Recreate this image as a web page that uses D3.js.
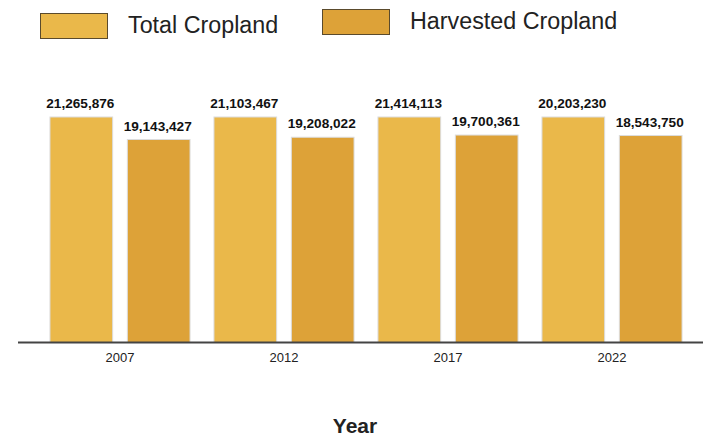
<!DOCTYPE html>
<html>
<head>
<meta charset="utf-8">
<script src="https://cdn.jsdelivr.net/npm/d3@7"></script>
<style>
  html, body { margin: 0; padding: 0; background: #fff; }
  svg { display: block; font-family: "Liberation Sans", Arial, Helvetica, sans-serif; }
</style>
</head>
<body>
<svg id="chart" width="703" height="439"></svg>
<script>
const years = ["2007", "2012", "2017", "2022"];
const seriesNames = ["Total Cropland", "Harvested Cropland"];
const totalCropland = [21265876, 21103467, 21414113, 20203230];
const harvestedCropland = [19143427, 19208022, 19700361, 18543750];
const colors = ["#EAB84A", "#DDA238"];

const svg = d3.select("#chart");
const W = 703, H = 439;
const baseY = 342.5, topY = 117;

const data = years.map((y, i) => ({
  year: y,
  values: [
    { key: seriesNames[0], value: totalCropland[i] },
    { key: seriesNames[1], value: harvestedCropland[i] }
  ]
}));

const x0 = d3.scaleBand().domain(years).range([38, 694]).paddingInner(0.146).paddingOuter(0.073);
const x1 = d3.scaleBand().domain(seriesNames).range([0, x0.bandwidth()]).paddingInner(0.19);
const color = d3.scaleOrdinal().domain(seriesNames).range(colors);
const fmt = d3.format(",");

// Each year group scaled to its own maximum, as in the reference
const groups = svg.selectAll("g.group").data(data).join("g")
  .attr("class", "group")
  .attr("transform", d => `translate(${x0(d.year)},0)`);

groups.each(function(d) {
  const y = d3.scaleLinear().domain([0, d3.max(d.values, v => v.value)]).range([baseY, topY]);
  const g = d3.select(this);
  g.selectAll("rect").data(d.values).join("rect")
    .attr("x", v => x1(v.key))
    .attr("y", v => y(v.value))
    .attr("width", x1.bandwidth())
    .attr("height", v => baseY - y(v.value))
    .attr("fill", v => color(v.key))
    .attr("stroke", "#dcdcdc")
    .attr("stroke-width", 1);
  g.selectAll("text").data(d.values).join("text")
    .attr("x", v => x1(v.key) + x1.bandwidth() / 2 - 1)
    .attr("y", v => y(v.value) - 9)
    .attr("text-anchor", "middle")
    .attr("font-size", 13.6)
    .attr("font-weight", "bold")
    .attr("fill", "#111")
    .text(v => fmt(v.value));
});

// x axis
const xAxis = d3.axisBottom(x0).tickSize(0).tickPadding(10);
const axG = svg.append("g").attr("transform", `translate(0,${baseY})`).call(xAxis);
axG.select(".domain").remove();
axG.selectAll("text").attr("font-size", 13).attr("fill", "#222")
  .attr("font-family", "'Liberation Sans', Arial, sans-serif");
svg.append("line").attr("x1", 18).attr("x2", W).attr("y1", baseY).attr("y2", baseY)
  .attr("stroke", "#444").attr("stroke-width", 2);

// axis title
svg.append("text").attr("x", 355).attr("y", 433).attr("text-anchor", "middle")
  .attr("font-size", 21).attr("font-weight", "bold").attr("fill", "#222").text("Year");

// legend
const legendPos = [{ x: 40, y: 13 }, { x: 322, y: 9 }];
const lg = svg.selectAll("g.legend").data(seriesNames).join("g")
  .attr("class", "legend")
  .attr("transform", (d, i) => `translate(${legendPos[i].x},${legendPos[i].y})`);
lg.append("rect").attr("x", 0.5).attr("y", 0.5).attr("width", 67).attr("height", 25)
  .attr("fill", d => color(d)).attr("stroke", "#5a4a2c").attr("stroke-width", 1);
lg.append("text").attr("x", 88).attr("y", 20).attr("font-size", 23.3).attr("fill", "#222")
  .text(d => d);
</script>
</body>
</html>
